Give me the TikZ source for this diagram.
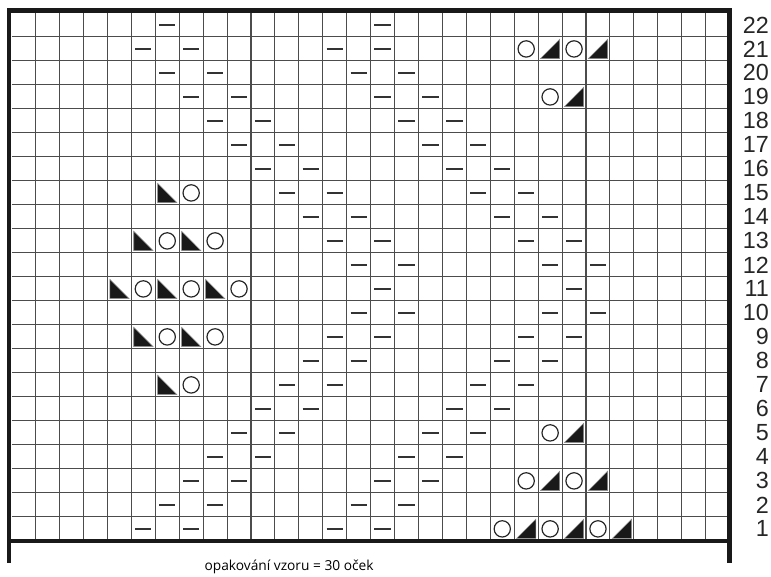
\documentclass[tikz,border=0pt]{standalone}
\usepackage{fontspec}
\newfontfamily\rowfont{Liberation Sans}
\newfontfamily\notefont{Open Sans}
\tikzset{
  gridline/.style = {black!70, line width = .8pt},
  frame/.style = {black!90, line width = 3.2pt},
  purl/.style = {black!80, line width = 1.1pt},
  yarnover/.style = {black!85, line width = .9pt},
  decrease/.style = {fill = black!90, draw = black!45, line width = .4pt},
  rowno/.style = {anchor = east, inner sep = 0pt, font = \rowfont\fontsize{17.5}{18}\selectfont, text = black!85},
  note/.style = {inner sep = 0pt, font = \notefont\fontsize{10.3}{12}\selectfont}
}
\begin{document}
\begin{tikzpicture}[x = 17.95pt, y = 18pt]
  \useasboundingbox (-.489,-1.5) rectangle (31.73,22.54);
  \foreach \c in {1,...,29} \draw [gridline] (\c,0) -- (\c,22);
  \foreach \r in {1,...,21} \draw [gridline] (0,\r) -- (30,\r);
  % frame and repeat bracket
  \draw [frame] (-.1,-.92) -- (-.1,22.1) -- (30,22.1) -- (30,-.92);
  \draw [frame] (-.1,0) -- (30,0);
  % purl stitches
  \foreach \c/\r in {6/22,15/22, 5/21,7/21,13/21,15/21, 6/20,8/20,14/20,16/20,
      7/19,9/19,15/19,17/19, 8/18,10/18,16/18,18/18, 9/17,11/17,17/17,19/17,
      10/16,12/16,18/16,20/16, 11/15,13/15,19/15,21/15, 12/14,14/14,20/14,22/14,
      13/13,15/13,21/13,23/13, 14/12,16/12,22/12,24/12, 15/11,23/11,
      14/10,16/10,22/10,24/10, 13/9,15/9,21/9,23/9, 12/8,14/8,20/8,22/8,
      11/7,13/7,19/7,21/7, 10/6,12/6,18/6,20/6, 9/5,11/5,17/5,19/5,
      8/4,10/4,16/4,18/4, 7/3,9/3,15/3,17/3, 6/2,8/2,14/2,16/2, 5/1,7/1,13/1,15/1}
    \draw [purl] (\c+.16,\r-.5) -- (\c+.84,\r-.5);
  % yarn overs
  \foreach \c/\r in {21/21,23/21, 22/19, 7/15, 6/13,8/13, 5/11,7/11,9/11,
      6/9,8/9, 7/7, 22/5, 21/3,23/3, 20/1,22/1,24/1}
    \draw [yarnover] (\c+.5,\r-.5) circle (.34);
  % left leaning decreases
  \foreach \c/\r in {6/15, 5/13,7/13, 4/11,6/11,8/11, 5/9,7/9, 6/7}
    \filldraw [decrease] (\c+.1,\r-.1) -- (\c+.1,\r-.9) -- (\c+.9,\r-.9) -- cycle;
  % right leaning decreases
  \foreach \c/\r in {22/21,24/21, 23/19, 23/5, 22/3,24/3, 21/1,23/1,25/1}
    \filldraw [decrease] (\c+.1,\r-.9) -- (\c+.9,\r-.9) -- (\c+.9,\r-.1) -- cycle;
  % row numbers
  \foreach \r in {1,...,22}
    \node [rowno] (row\r) at (31.65,\r-.5) {\r};
  \node [note] (repeat) at (11.59,-1.08) {opakování vzoru = 30 oček};
\end{tikzpicture}
\end{document}
